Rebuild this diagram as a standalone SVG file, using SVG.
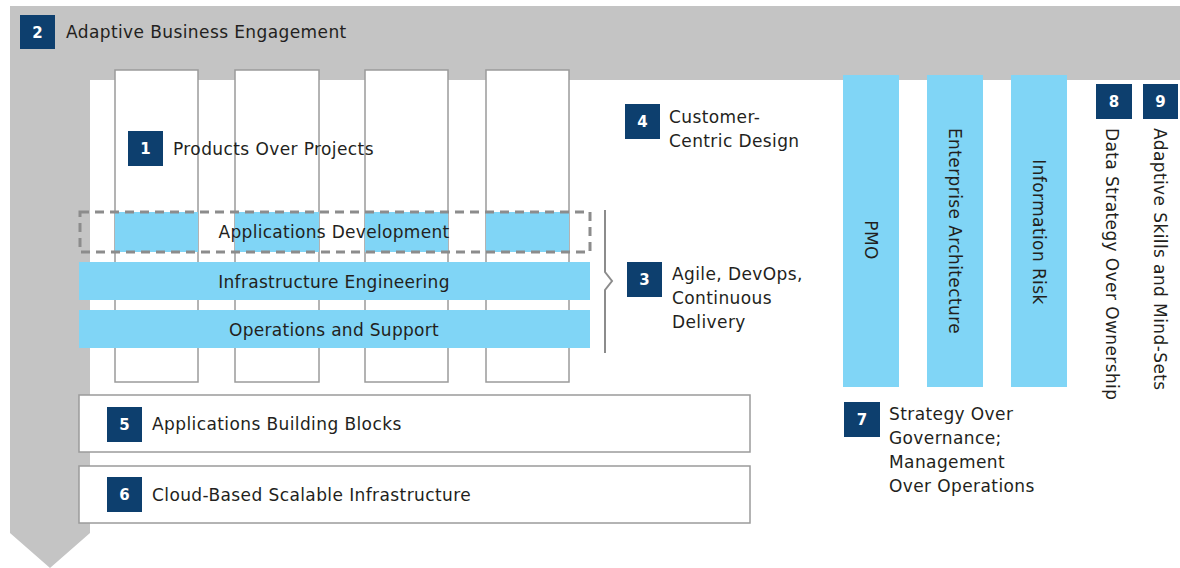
<svg xmlns="http://www.w3.org/2000/svg" width="1180" height="568" viewBox="0 0 1180 568">
<style>
.t{font-family:"DejaVu Sans","Liberation Sans",sans-serif;font-size:17px;fill:#231f20;letter-spacing:0.4px}
.tb{font-family:"DejaVu Sans","Liberation Sans",sans-serif;font-size:17px;fill:#231f20;letter-spacing:0.3px;text-anchor:middle}
.bn{font-family:"DejaVu Sans","Liberation Sans",sans-serif;font-size:15px;fill:#ffffff;font-weight:bold;text-anchor:middle}
.badge{fill:#0d3f6e}
.col{fill:#ffffff;stroke:#9b9b9b;stroke-width:1.5}
.bar{fill:#80d5f6}
.box{fill:#ffffff;stroke:#9b9b9b;stroke-width:1.5}
.vt{font-family:"DejaVu Sans","Liberation Sans",sans-serif;font-size:17px;fill:#231f20;letter-spacing:0.4px;dominant-baseline:central}
</style>
<rect width="1180" height="568" fill="#ffffff"/>
<g id="band">
<polygon points="10,6 1180,6 1180,80 90,80 90,533 50,568 10,533" fill="#c4c4c4"/>
<rect class="badge" x="20" y="15" width="35" height="34"/>
<text class="bn" x="37.5" y="37.5">2</text>
<text class="t" x="66" y="38">Adaptive Business Engagement</text>
</g>
<g id="columns">
<rect class="col" x="115" y="70" width="83" height="312"/>
<rect class="col" x="235" y="70" width="84" height="312"/>
<rect class="col" x="365" y="70" width="83" height="312"/>
<rect class="col" x="486" y="70" width="83" height="312"/>
</g>
<g id="products">
<rect class="badge" x="128" y="131" width="35" height="35"/>
<text class="bn" x="145.5" y="154">1</text>
<text class="t" x="173" y="155">Products Over Projects</text>
</g>
<g id="appdev">
<rect class="bar" x="115" y="212" width="83" height="40"/>
<rect class="bar" x="235" y="212" width="84" height="40"/>
<rect class="bar" x="365" y="212" width="83" height="40"/>
<rect class="bar" x="486" y="212" width="83" height="40"/>
<rect x="80" y="212" width="510" height="40" fill="none" stroke="#8c8c8c" stroke-width="3" stroke-dasharray="9 6"/>
<text class="tb" x="334" y="238">Applications Development</text>
</g>
<g id="infra">
<rect class="bar" x="79" y="262" width="511" height="38"/>
<text class="tb" x="334" y="288">Infrastructure Engineering</text>
</g>
<g id="ops">
<rect class="bar" x="79" y="310" width="511" height="38"/>
<text class="tb" x="334" y="336">Operations and Support</text>
</g>
<g id="connectors">
<polyline points="605,210 605,272 612,281 605,290 605,353" fill="none" stroke="#8c8c8c" stroke-width="2"/>
</g>
<g id="agile">
<rect class="badge" x="627" y="262" width="35" height="35"/>
<text class="bn" x="644.5" y="285">3</text>
<text class="t" x="672" y="280">Agile, DevOps,</text>
<text class="t" x="672" y="304">Continuous</text>
<text class="t" x="672" y="328">Delivery</text>
</g>
<g id="customer">
<rect class="badge" x="625" y="104" width="35" height="35"/>
<text class="bn" x="642.5" y="127">4</text>
<text class="t" x="669" y="123">Customer-</text>
<text class="t" x="669" y="147">Centric Design</text>
</g>
<g id="blocks">
<rect class="box" x="79" y="395" width="671" height="57"/>
<rect class="badge" x="107" y="407" width="35" height="35"/>
<text class="bn" x="124.5" y="430">5</text>
<text class="t" x="152" y="430">Applications Building Blocks</text>
</g>
<g id="cloud">
<rect class="box" x="79" y="466" width="671" height="57"/>
<rect class="badge" x="107" y="477" width="35" height="35"/>
<text class="bn" x="124.5" y="500">6</text>
<text class="t" x="152" y="501">Cloud-Based Scalable Infrastructure</text>
</g>
<g id="pmo">
<rect class="bar" x="843" y="75" width="56" height="312"/>
<text class="vt" transform="translate(871,240) rotate(90)" text-anchor="middle">PMO</text>
</g>
<g id="ea">
<rect class="bar" x="927" y="75" width="56" height="312"/>
<text class="vt" transform="translate(955,231) rotate(90)" text-anchor="middle">Enterprise Architecture</text>
</g>
<g id="risk">
<rect class="bar" x="1011" y="75" width="56" height="312"/>
<text class="vt" transform="translate(1039,232) rotate(90)" text-anchor="middle">Information Risk</text>
</g>
<g id="strategy">
<rect class="badge" x="844" y="402" width="36" height="35"/>
<text class="bn" x="862" y="425">7</text>
<text class="t" x="889" y="420">Strategy Over</text>
<text class="t" x="889" y="444">Governance;</text>
<text class="t" x="889" y="468">Management</text>
<text class="t" x="889" y="492">Over Operations</text>
</g>
<g id="data">
<rect class="badge" x="1096" y="84" width="36" height="35"/>
<text class="bn" x="1114" y="107">8</text>
<text class="vt" transform="translate(1112,128) rotate(90)">Data Strategy Over Ownership</text>
</g>
<g id="skills">
<rect class="badge" x="1143" y="84" width="35" height="35"/>
<text class="bn" x="1160.5" y="107">9</text>
<text class="vt" transform="translate(1160,128) rotate(90)">Adaptive Skills and Mind-Sets</text>
</g>
</svg>
